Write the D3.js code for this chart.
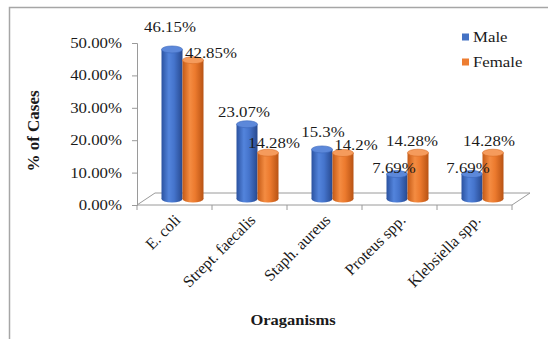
<!DOCTYPE html>
<html>
<head>
<meta charset="utf-8">
<script src="https://cdn.jsdelivr.net/npm/d3@7"></script>
<style>
  body { margin: 0; background: #fff; }
  svg text { font-family: "Liberation Serif", "Times New Roman", serif; fill: #1a1a1a; }
</style>
</head>
<body>
<svg id="chart" width="548" height="339"></svg>
<script>
// data
var categories = ["E. coli", "Strept. faecalis", "Staph. aureus", "Proteus spp.", "Klebsiella spp."];
var maleValues = [46.15, 23.07, 15.3, 7.69, 7.69];
var femaleValues = [42.85, 14.28, 14.2, 14.28, 14.28];
var maleLabels = ["46.15%", "23.07%", "15.3%", "7.69%", "7.69%"];
var femaleLabels = ["42.85%", "14.28%", "14.2%", "14.28%", "14.28%"];
var yTicks = [0, 10, 20, 30, 40, 50];
var seriesNames = ["Male", "Female"];

// label nudges (excel put them wherever it liked)
var maleNudge = [[-2, -22], [-3, -12], [1, -17], [-3, -6], [-4, -6]];
var femaleNudge = [[18, -7], [6, -10], [13, -8], [-6, -12], [-4, -12]];

var svg = d3.select("#chart");

// frame
svg.append("rect")
    .attr("x", 9.5).attr("y", 7.5)
    .attr("width", 560).attr("height", 340)
    .attr("fill", "none")
    .attr("stroke", "#a6a6a6")
    .attr("stroke-width", 1.5);

var x = d3.scaleBand().domain(categories).range([137, 512]);
var y = d3.scaleLinear().domain([0, 50]).range([205, 43]);

var depth = {dx: 18, dy: -12};
var mid = {dx: 8, dy: -6};

// gradients for the cylinders
var defs = svg.append("defs");
function addGrad(id, stops){
    var g = defs.append("linearGradient").attr("id", id)
        .attr("x1", "0%").attr("x2", "100%").attr("y1", "0%").attr("y2", "0%");
    stops.forEach(function(s){
        g.append("stop").attr("offset", s[0]).attr("stop-color", s[1]);
    });
}
addGrad("gMale", [["0%", "#2b52a0"], ["35%", "#5384dc"], ["60%", "#4574cc"], ["100%", "#27498f"]]);
addGrad("gFemale", [["0%", "#c45a16"], ["35%", "#f48c42"], ["60%", "#ec7a2e"], ["100%", "#b85314"]]);

// floor
var x0 = x.range()[0], x1 = x.range()[1], yb = y(0);
svg.append("path")
    .attr("d", "M" + x0 + "," + yb + "L" + x1 + "," + yb +
        "L" + (x1 + depth.dx) + "," + (yb + depth.dy) +
        "L" + (x0 + depth.dx) + "," + (yb + depth.dy) + "Z")
    .attr("fill", "#fff")
    .attr("stroke", "#9a9a9a");

// category ticks under the floor
var catEdges = categories.map(function(c){ return x(c); }).concat([x1]);
svg.selectAll(".ctick").data(catEdges).enter().append("line")
    .attr("x1", function(d){ return d; }).attr("x2", function(d){ return d; })
    .attr("y1", yb).attr("y2", yb + 5)
    .attr("stroke", "#9a9a9a");

// y axis
var yAxis = d3.axisLeft(y).tickValues(yTicks).tickSize(5).tickPadding(0)
    .tickFormat(function(d){ return d.toFixed(2) + "%"; });
var ga = svg.append("g").attr("transform", "translate(137,0)").call(yAxis);
ga.select(".domain").attr("stroke", "#9a9a9a");
ga.selectAll(".tick line").attr("stroke", "#9a9a9a");
ga.selectAll(".tick text")
    .attr("x", null)
    .attr("transform", "translate(-15,0) scale(1.2,1)")
    .attr("font-size", 14)
    .attr("font-family", "Liberation Serif")
    .attr("fill", "#1a1a1a");

// cylinders
var barW = 21, ry = 3.5;
var bars = [];
categories.forEach(function(c, i){
    var cx = x(c) + x.bandwidth() / 2 + mid.dx;
    bars.push({s: 0, v: maleValues[i], lab: maleLabels[i], cx: cx - barW / 2, n: maleNudge[i]});
    bars.push({s: 1, v: femaleValues[i], lab: femaleLabels[i], cx: cx + barW / 2, n: femaleNudge[i]});
});

var base = y(0) + mid.dy;
var gb = svg.selectAll(".bar").data(bars).enter().append("g").attr("class", "bar");
gb.append("ellipse")
    .attr("cx", function(d){ return d.cx; })
    .attr("cy", base)
    .attr("rx", barW / 2).attr("ry", ry)
    .attr("fill", function(d){ return d.s ? "url(#gFemale)" : "url(#gMale)"; });
gb.append("rect")
    .attr("x", function(d){ return d.cx - barW / 2; })
    .attr("y", function(d){ return y(d.v) + mid.dy; })
    .attr("width", barW)
    .attr("height", function(d){ return base - (y(d.v) + mid.dy); })
    .attr("fill", function(d){ return d.s ? "url(#gFemale)" : "url(#gMale)"; });
gb.append("ellipse")
    .attr("cx", function(d){ return d.cx; })
    .attr("cy", function(d){ return y(d.v) + mid.dy; })
    .attr("rx", barW / 2).attr("ry", ry)
    .attr("fill", function(d){ return d.s ? "#f59b5c" : "#5c88da"; })
    .attr("stroke", function(d){ return d.s ? "#d66a22" : "#3a66bb"; })
    .attr("stroke-width", 0.6);

// value labels
svg.selectAll(".vlab").data(bars).enter().append("text")
    .attr("transform", function(d){
        return "translate(" + (d.cx + d.n[0]) + "," + (y(d.v) + mid.dy + d.n[1]) + ") scale(1.2,1)";
    })
    .attr("text-anchor", "middle")
    .attr("dy", "0.35em")
    .attr("font-size", 14)
    .text(function(d){ return d.lab; });

// category labels
svg.selectAll(".clab").data(categories).enter().append("text")
    .attr("transform", function(d){
        return "translate(" + (x(d) + x.bandwidth() / 2 + 7) + "," + 221 + ") rotate(-45)";
    })
    .attr("text-anchor", "end")
    .attr("font-size", 16)
    .text(function(d){ return d; });

// axis titles
svg.append("text")
    .attr("transform", "translate(33,131) rotate(-90)")
    .attr("text-anchor", "middle")
    .attr("dy", "0.35em")
    .attr("font-size", 17)
    .attr("font-weight", "bold")
    .text("% of Cases");

svg.append("text")
    .attr("transform", "translate(293,320) scale(1.1,1)")
    .attr("text-anchor", "middle")
    .attr("dy", "0.35em")
    .attr("font-size", 15)
    .attr("font-weight", "bold")
    .text("Oraganisms");

// legend
var legColors = ["#4472c4", "#ed7d31"];
var lg = svg.selectAll(".leg").data(seriesNames).enter().append("g")
    .attr("transform", function(d, i){ return "translate(462," + (37 + i * 25) + ")"; });
lg.append("rect")
    .attr("x", 0).attr("y", -3.5).attr("width", 7).attr("height", 7)
    .attr("fill", function(d, i){ return legColors[i]; });
lg.append("text")
    .attr("transform", "translate(11,0) scale(1.2,1)")
    .attr("dy", "0.35em")
    .attr("font-size", 14)
    .text(function(d){ return d; });
</script>
</body>
</html>
